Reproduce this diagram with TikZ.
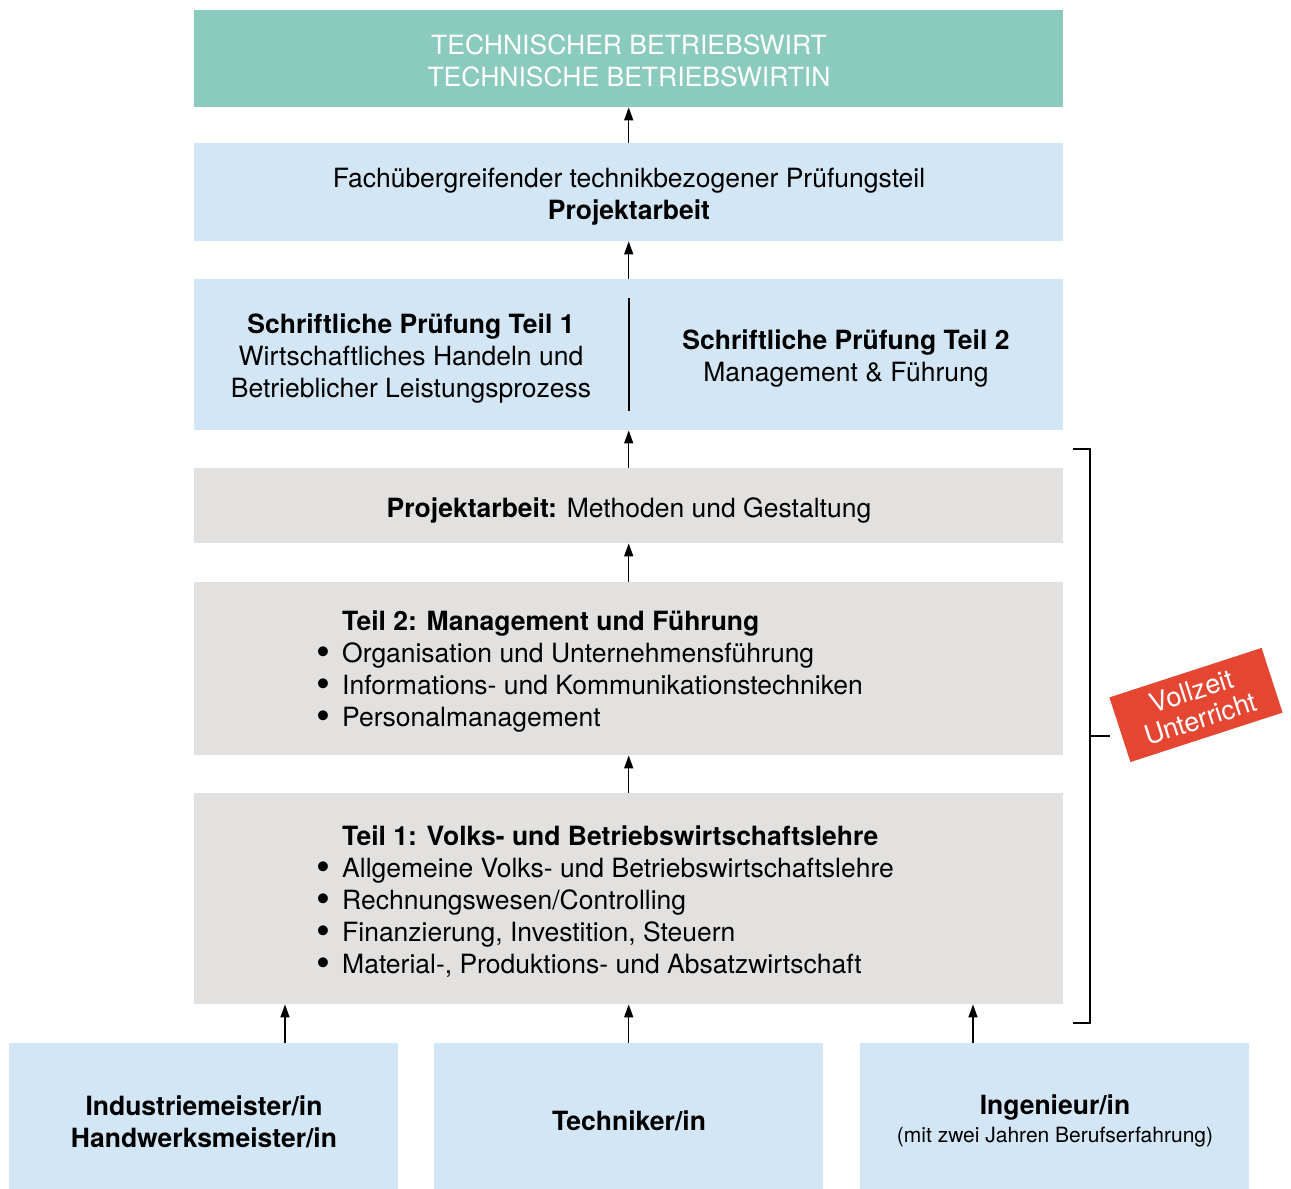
\documentclass[tikz,border=0pt]{standalone}
\usepackage{fontspec}
\setmainfont{TeX Gyre Heros}
\usetikzlibrary{arrows.meta}
\definecolor{tgreen}{HTML}{8ACBBE}
\definecolor{tblue}{HTML}{D3E6F5}
\definecolor{tgray}{HTML}{E2E1DF}
\definecolor{tred}{HTML}{E44632}
\tikzset{
  box/.style={draw=none, inner sep=0pt, anchor=north west},
  txt/.style={inner sep=0pt, align=center, font=\fontsize{26.5}{32}\selectfont},
  ltxt/.style={inner sep=0pt, anchor=north west, align=left, font=\fontsize{26.5}{32}\selectfont},
  arr/.style={line width=1.4pt, -{Triangle[length=13pt,width=9pt]}},
  brk/.style={line width=1.4pt},
}
\newcommand{\bul}{\makebox[26pt][l]{\raisebox{-2.5pt}{\scalebox{1.5}{\textbullet}}}}
\begin{document}
\begin{tikzpicture}[x=1pt,y=-1pt]
\useasboundingbox (0,0) rectangle (1291,1189);
% boxes
\node[box, fill=tgreen, minimum width=869pt, minimum height=97pt] (b1) at (194,10) {};
\node[box, fill=tblue, minimum width=869pt, minimum height=98pt] (b2) at (194,143) {};
\node[box, fill=tblue, minimum width=869pt, minimum height=151pt] (b3) at (194,279) {};
\node[box, fill=tgray, minimum width=869pt, minimum height=75pt] (b4) at (194,468) {};
\node[box, fill=tgray, minimum width=869pt, minimum height=173pt] (b5) at (194,582) {};
\node[box, fill=tgray, minimum width=869pt, minimum height=211pt] (b6) at (194,793) {};
\node[box, fill=tblue, minimum width=389pt, minimum height=146pt] (s1) at (9,1043) {};
\node[box, fill=tblue, minimum width=389pt, minimum height=146pt] (s2) at (434,1043) {};
\node[box, fill=tblue, minimum width=389pt, minimum height=146pt] (s3) at (860,1043) {};
% texts
\node[txt, text=white] (t1) at (629,61) {TECHNISCHER BETRIEBSWIRT\\TECHNISCHE BETRIEBSWIRTIN};
\node[txt] (t2) at (629,197) {Fachübergreifender technikbezogener Prüfungsteil\\\textbf{Projektarbeit}};
\node[txt] (t3a) at (411,359) {\textbf{Schriftliche Prüfung Teil 1}\\Wirtschaftliches Handeln und\\Betrieblicher Leistungsprozess};
\node[txt] (t3b) at (846,359) {\textbf{Schriftliche Prüfung Teil 2}\\Management \& Führung};
\coordinate (d1) at (629,298);
\coordinate (d2) at (629,411);
\draw[line width=1.2pt] (d1) -- (d2);
\node[txt] (t4) at (629,510) {\textbf{Projektarbeit:} Methoden und Gestaltung};
\node[ltxt] (t5) at (316,611) {\hspace*{26pt}\textbf{Teil 2: Management und Führung}\\
\bul Organisation und Unternehmensführung\\
\bul Informations- und Kommunikationstechniken\\
\bul Personalmanagement};
\node[ltxt] (t6) at (316,826) {\hspace*{26pt}\textbf{Teil 1: Volks- und Betriebswirtschaftslehre}\\
\bul Allgemeine Volks- und Betriebswirtschaftslehre\\
\bul Rechnungswesen/Controlling\\
\bul Finanzierung, Investition, Steuern\\
\bul Material-, Produktions- und Absatzwirtschaft};
\node[txt] (u1) at (204,1122) {\textbf{Industriemeister/in}\\\textbf{Handwerksmeister/in}};
\node[txt] (u2) at (629,1121) {\textbf{Techniker/in}};
\node[txt] (u3a) at (1055,1108) {\textbf{Ingenieur/in}};
\node[inner sep=0pt, font=\fontsize{21}{24}\selectfont] (u3b) at (1055,1137) {(mit zwei Jahren Berufserfahrung)};
% arrows
\draw[arr] (b2.north) -- (b1.south);
\draw[arr] (b3.north) -- (b2.south);
\draw[arr] (b4.north) -- (b3.south);
\draw[arr] (b5.north) -- (b4.south);
\draw[arr] (b6.north) -- (b5.south);
\draw[arr] (s1.north -| 285,0) -- (b6.south -| 285,0);
\draw[arr] (s2.north) -- (b6.south);
\draw[arr] (s3.north -| 973,0) -- (b6.south -| 973,0);
% bracket
\coordinate (k1) at (1073,449);
\coordinate (k2) at (1090,449);
\coordinate (k3) at (1090,1023);
\coordinate (k4) at (1073,1023);
\coordinate (km) at (1090,736);
\coordinate (kn) at (1110,736);
\draw[brk] (k1) -- (k2) -- (k3) -- (k4);
\draw[brk] (km) -- (kn);
% red label
\node[fill=tred, text=white, rotate=18, minimum width=160pt, minimum height=68pt, inner sep=0pt, align=center, font=\fontsize{27}{29}\selectfont] (vz) at (1196,705) {Vollzeit\\Unterricht};
\end{tikzpicture}
\end{document}
